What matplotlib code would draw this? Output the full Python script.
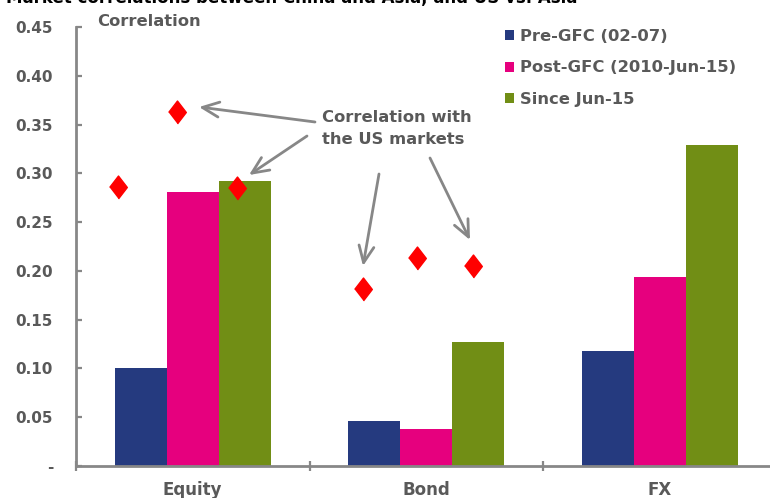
import matplotlib
matplotlib.use("Agg")
import matplotlib.pyplot as plt
from matplotlib.patches import Patch, FancyArrowPatch
import numpy as np

# ---- data ----
categories = ["Equity", "Bond", "FX"]
series_names = ["Pre-GFC (02-07)", "Post-GFC (2010-Jun-15)", "Since Jun-15"]
pre_gfc = [0.100, 0.046, 0.118]
post_gfc = [0.281, 0.038, 0.194]
since_jun15 = [0.292, 0.127, 0.329]
us_corr = [[0.286, 0.363, 0.285], [0.181, 0.213, 0.205]]  # Equity, Bond
us_corr_xshift = [[-0.321, -0.069, 0.188], [-0.272, -0.041, 0.199]]
yticks = [0.0, 0.05, 0.10, 0.15, 0.20, 0.25, 0.30, 0.35, 0.40, 0.45]
ytick_labels = ["-", "0.05", "0.10", "0.15", "0.20", "0.25", "0.30", "0.35", "0.40", "0.45"]
title = "Market correlations between China and Asia, and US vs. Asia"

colors = ["#253A7F", "#E6007E", "#718E15"]
gray = "#595959"
axis_gray = "#878787"

plt.rcParams['font.family'] = ['DejaVu Sans']
plt.rcParams['font.weight'] = 'bold'

W, H = 770, 498
fig = plt.figure(figsize=(W / 100, H / 100), dpi=100)
ax_left, ax_bottom, ax_top = 76, 466, 27
cat_w = 233.5
ax = fig.add_axes([ax_left / W, (H - ax_bottom) / H, 3 * cat_w / W, (ax_bottom - ax_top) / H])

x = np.arange(len(categories))
bw = 0.223
for k, vals in enumerate([pre_gfc, post_gfc, since_jun15]):
    ax.bar(x + (k - 1) * bw, vals, width=bw, color=colors[k], zorder=2)

for i, (vals, shifts) in enumerate(zip(us_corr, us_corr_xshift)):
    ax.plot([i + s for s in shifts], vals, linestyle='none',
            marker=[(-0.77, 0), (0, 1), (0.77, 0), (0, -1)], markersize=16.5,
            color="#FF0000", zorder=3)

ax.set_xlim(-0.5, 2.5)
ax.set_ylim(0, 0.45)
for s in ["top", "right"]:
    ax.spines[s].set_visible(False)
for s in ["left", "bottom"]:
    ax.spines[s].set_color(axis_gray)
    ax.spines[s].set_linewidth(2.0)

ax.set_yticks(yticks)
ax.set_yticklabels(ytick_labels)
ax.tick_params(axis='y', direction='in', length=4, width=1.6, color=axis_gray,
               labelsize=11, labelcolor=gray, pad=16.5)

ax.set_xticks([-0.5, 0.5, 1.5, 2.5])
ax.set_xticklabels([])
ax.tick_params(axis='x', which='major', direction='inout', length=7, width=1.6, color=axis_gray)
ax.set_xticks(x, minor=True)
ax.set_xticklabels(categories, minor=True)
ax.tick_params(axis='x', which='minor', length=0, labelsize=12, labelcolor=gray, pad=11)
for lbl in ax.get_yticklabels() + ax.get_xticklabels(minor=True):
    lbl.set_fontweight('bold')

# title (partly cut at top, as in reference)
fig.text(6 / W, (H - 3) / H, title, fontsize=12, fontweight='bold', color='black',
         ha='left', va='baseline')

fig.text(97 / W, (H - 22) / H, "Correlation", fontsize=11.8, fontweight='bold', color=gray,
         ha='left', va='center')

handles = [Patch(facecolor=c, edgecolor='none') for c in colors]
leg = ax.legend(handles, series_names, loc='upper left',
                bbox_to_anchor=((505 - ax_left) / (3 * cat_w), 1.0 - (29 - ax_top) / (ax_bottom - ax_top)),
                frameon=False, fontsize=11.8, handlelength=0.55, handleheight=0.55,
                handletextpad=0.35, labelspacing=1.0, borderaxespad=0, borderpad=0)
for t in leg.get_texts():
    t.set_color(gray)
    t.set_fontweight('bold')

fig.text(322 / W, (H - 128.5) / H, "Correlation with\nthe US markets", fontsize=11.8,
         fontweight='bold', color=gray, ha='left', va='center', linespacing=1.55)

def px(p):
    return (p[0] / W, (H - p[1]) / H)

arrows = [((315, 122), (199, 107)), ((307, 136), (249, 175)),
          ((379, 174), (363, 266)), ((430, 158), (470, 240))]
for tail, head in arrows:
    fig.add_artist(FancyArrowPatch(
        px(tail), px(head), transform=fig.transFigure, arrowstyle='->,head_length=1.0,head_width=0.45',
        color=axis_gray, lw=2.0, mutation_scale=12, shrinkA=0, shrinkB=0))

fig.savefig("out.png", dpi=100)
